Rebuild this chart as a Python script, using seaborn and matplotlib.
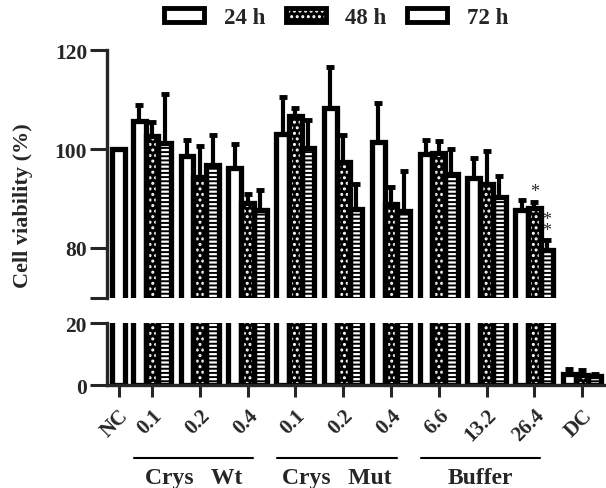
import matplotlib
matplotlib.use('Agg')
import matplotlib.pyplot as plt
import matplotlib.patches as mpatches
import matplotlib.transforms as mtransforms
from matplotlib.legend_handler import HandlerTuple
import seaborn as sns
import pandas as pd
import numpy as np

# data (mean and upper SD)
times = ['24 h', '48 h', '72 h']
tick_labels = ['0.1', '0.2', '0.4', '0.1', '0.2', '0.4', '6.6', '13.2', '26.4', 'DC']
group_names = ['Crys   Wt', 'Crys   Mut', 'Buffer']
mean_24 = [105.6, 98.6, 96.1, 103.0, 108.2, 101.5, 99.0, 94.1, 87.7, 3.5]
mean_48 = [102.7, 94.4, 89.1, 106.7, 97.3, 88.9, 99.1, 92.9, 88.0, 3.3]
mean_72 = [101.3, 96.8, 87.7, 100.2, 87.9, 87.5, 94.9, 90.4, 79.5, 2.8]
sd_24 = [3.2, 3.3, 5.0, 7.5, 8.4, 7.7, 2.9, 4.0, 2.0, 1.7]
sd_48 = [2.7, 6.3, 1.9, 1.5, 5.6, 3.4, 2.5, 6.7, 1.3, 1.6]
sd_72 = [9.8, 6.1, 4.1, 5.6, 5.1, 8.0, 5.1, 4.2, 2.1, 0.8]
nc_value = 100.0
stars_48 = ['', '', '', '', '', '', '', '', '*', '']
stars_72 = ['', '', '', '', '', '', '', '', '*\n*', '']

positions = np.arange(1, 11)
nc_pos = 0.3

df = pd.DataFrame({
    'pos': np.tile(positions, 3),
    'time': np.repeat(times, 10),
    'value': mean_24 + mean_48 + mean_72,
})
nc_df = pd.DataFrame({'pos': [nc_pos], 'value': [nc_value]})
sds = [sd_24, sd_48, sd_72]

sns.set_style('ticks')
plt.rcParams['font.family'] = ['Liberation Serif', 'DejaVu Serif']
plt.rcParams['font.weight'] = 'bold'
plt.rcParams['hatch.linewidth'] = 1.4

LW = 3.8

fig = plt.figure(figsize=(6.06, 4.89), dpi=100)
ax_top = fig.add_axes([106.5 / 606, 1 - 298.5 / 489, 499.5 / 606, 247.5 / 489])
ax_bot = fig.add_axes([106.5 / 606, 1 - 386 / 489, 499.5 / 606, 62 / 489])


def draw(ax):
    # fill layer
    n0 = len(ax.containers)
    sns.barplot(data=df, x='pos', y='value', hue='time', hue_order=times,
                native_scale=True, errorbar=None, width=0.8, linewidth=0,
                palette=['white', 'black', 'white'], legend=False, ax=ax)
    c24, c48, c72 = ax.containers[n0:n0 + 3]
    for p in c48:
        p.set_facecolor('black')
        p.set_edgecolor('white')
        p.set_hatch('...')
        p.set_linewidth(0)
    for p in c72:
        p.set_facecolor('white')
        p.set_edgecolor('black')
        p.set_hatch('----')
        p.set_linewidth(0)
    # error bars (upper only), behind the outlines
    for cont, sd in zip([c24, c48, c72], sds):
        xs = [p.get_x() + p.get_width() / 2 for p in cont]
        ys = [p.get_height() for p in cont]
        ax.errorbar(xs, ys, yerr=[np.zeros(len(sd)), sd], fmt='none',
                    ecolor='black', elinewidth=3, capsize=3, capthick=3.5,
                    zorder=1.5)
    # outline layer
    n1 = len(ax.containers)
    sns.barplot(data=df, x='pos', y='value', hue='time', hue_order=times,
                native_scale=True, errorbar=None, width=0.8, fill=False,
                palette=['black'] * 3, legend=False, ax=ax)
    for cont in ax.containers[n1:n1 + 3]:
        for p in cont:
            p.set_edgecolor('black')
            p.set_linewidth(LW)
            p.set_zorder(2)
    # NC bar
    n2 = len(ax.containers)
    sns.barplot(data=nc_df, x='pos', y='value', native_scale=True,
                errorbar=None, width=0.8 / 3, color='white', ax=ax)
    for p in ax.containers[n2]:
        p.set_facecolor('white')
        p.set_edgecolor('black')
        p.set_linewidth(LW)
        p.set_zorder(2)
    return c48, c72


c48, c72 = draw(ax_top)
draw(ax_bot)

# significance stars
for cont, sd, st in [(c48, sd_48, stars_48), (c72, sd_72, stars_72)]:
    for p, s, lab in zip(cont, sd, st):
        if lab:
            ax_top.text(p.get_x() + p.get_width() / 2, p.get_height() + s + 0.3, lab,
                        ha='center', va='bottom', fontsize=13, fontweight='normal',
                        linespacing=0.5)

xlim = (0.048, 10.5)
for ax in (ax_top, ax_bot):
    ax.set_xlim(*xlim)
    ax.set_xlabel('')
    ax.set_ylabel('')
    for s in ax.spines.values():
        s.set_linewidth(2.4)
    ax.tick_params(axis='y', width=2.2, length=12, labelsize=15.5, pad=2)
    ax.tick_params(axis='x', width=2.2, length=8.5, labelsize=15, pad=3)

ax_top.set_ylim(70, 120)
ax_top.set_yticks([70, 80, 100, 120])
ax_top.set_yticklabels(['', '80', '100', '120'])
ax_top.spines['top'].set_visible(False)
ax_top.spines['right'].set_visible(False)
ax_top.spines['bottom'].set_visible(False)
ax_top.set_xticks([])

ax_bot.set_ylim(0, 20)
ax_bot.set_yticks([0, 20])
ax_bot.spines['top'].set_visible(False)
ax_bot.spines['right'].set_visible(False)
ax_bot.set_xticks([nc_pos] + list(positions))
ax_bot.set_xticklabels(['NC'] + tick_labels, rotation=45, ha='right',
                       rotation_mode='anchor', fontsize=15)
for lab in ax_bot.get_xticklabels():
    lab.set_transform(lab.get_transform() + mtransforms.ScaledTranslation(0, -4 / 100, fig.dpi_scale_trans))

# group lines and names under the axis
trans = mtransforms.blended_transform_factory(ax_bot.transData, fig.transFigure)
spans = [(positions[0], positions[2]), (positions[3], positions[5]), (positions[6], positions[8])]
for (a, b), name in zip(spans, group_names):
    ax_bot.plot([a - 0.38, b + 0.12], [1 - 459 / 489] * 2, color='black', lw=1.5,
                transform=trans, clip_on=False)
    ax_bot.text((a - 0.38 + b + 0.12) / 2, 1 - 479 / 489, name, transform=trans,
                ha='center', va='center', fontsize=17, fontweight='bold')

fig.text(23 / 606, 1 - 206 / 489, 'Cell viability (%)', rotation=90,
         ha='center', va='center', fontsize=16, fontweight='bold')

# legend
h24 = mpatches.Patch(facecolor='white', edgecolor='black', linewidth=3.5)
h48 = (mpatches.Patch(facecolor='black', edgecolor='white', hatch='...', linewidth=0),
       mpatches.Patch(facecolor='none', edgecolor='black', linewidth=3.5))
h72 = (mpatches.Patch(facecolor='white', edgecolor='black', hatch='-', linewidth=0),
       mpatches.Patch(facecolor='none', edgecolor='black', linewidth=3.5))
fig.legend([h24, h48, h72], times, handler_map={tuple: HandlerTuple(ndivide=1, pad=0)},
           loc='center', bbox_to_anchor=(0.555, 1 - 19 / 489), ncol=3, frameon=False,
           handlelength=1.75, handleheight=0.55, columnspacing=0.9,
           handletextpad=0.85, prop={'weight': 'bold', 'size': 16.5})

fig.savefig('out.png', dpi=100)
